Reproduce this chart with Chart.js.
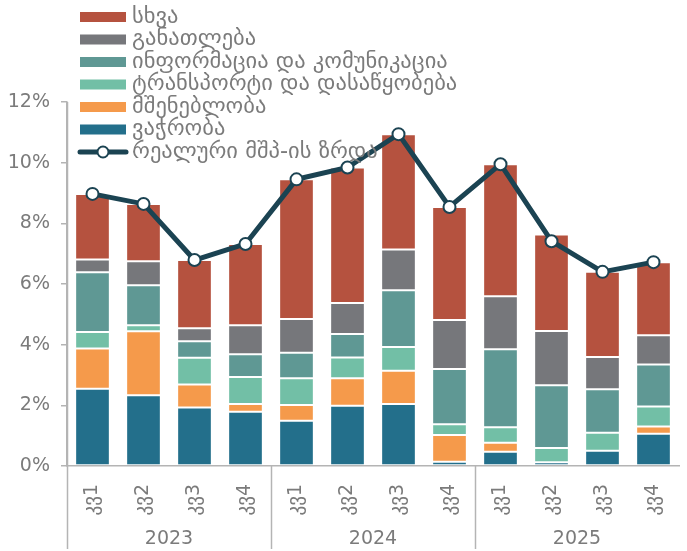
<!DOCTYPE html>
<html>
<head>
<meta charset="utf-8">
<script src="https://cdn.jsdelivr.net/npm/chart.js@4/dist/chart.umd.min.js"></script>
<style>
  html, body { margin: 0; padding: 0; background: #fff; }
  #wrap { width: 687px; height: 551px; }
</style>
</head>
<body>
<div id="wrap"><canvas id="chart" width="687" height="551"></canvas></div>
<script>
// quarters + years
const quarters = ['კვ1', 'კვ2', 'კვ3', 'კვ4', 'კვ1', 'კვ2', 'კვ3', 'კვ4', 'კვ1', 'კვ2', 'კვ3', 'კვ4'];
const years = ['2023', '2024', '2025'];

// contributions to growth, percentage points
const trade        = [2.55, 2.33, 1.93, 1.79, 1.49, 1.99, 2.04, 0.14, 0.47, 0.12, 0.50, 1.06];
const construction = [1.32, 2.11, 0.76, 0.25, 0.52, 0.90, 1.10, 0.88, 0.30, -0.07, 0.00, 0.24];
const transport    = [0.55, 0.20, 0.88, 0.89, 0.88, 0.69, 0.78, 0.36, 0.51, 0.47, 0.60, 0.66];
const ict          = [1.97, 1.32, 0.54, 0.75, 0.84, 0.77, 1.87, 1.82, 2.57, 2.07, 1.43, 1.39];
const education    = [0.42, 0.79, 0.43, 0.96, 1.12, 1.02, 1.35, 1.61, 1.75, 1.79, 1.06, 0.96];
const other        = [2.16, 1.89, 2.25, 2.68, 4.60, 4.47, 3.80, 3.73, 4.35, 3.18, 2.81, 2.41];
const gdpGrowth    = [8.97, 8.64, 6.79, 7.32, 9.45, 9.84, 10.94, 8.54, 9.95, 7.41, 6.40, 6.72];

const yTicks = [0, 2, 4, 6, 8, 10, 12];

const GREY = '#7b7b7b';
const LINE = '#1b4352';
Chart.defaults.font.family = "'DejaVu Sans', sans-serif";
Chart.defaults.font.size = 19;
Chart.defaults.color = GREY;

const bar = (label, data, color) => ({
  type: 'bar', label, data, backgroundColor: color,
  borderColor: 'rgba(255,255,255,0.35)', borderWidth: 1, borderSkipped: false,
  stack: 's', order: 1, barPercentage: 0.68, categoryPercentage: 1,
});

const datasets = [
  bar('ვაჭრობა', trade, '#236f8b'),
  bar('მშენებლობა', construction, '#f59a4b'),
  bar('ტრანსპორტი და დასაწყობება', transport, '#72bfa6'),
  bar('ინფორმაცია და კომუნიკაცია', ict, '#5f9894'),
  bar('განათლება', education, '#76777b'),
  bar('სხვა', other, '#b5523f'),
  {
    type: 'line', label: 'რეალური მშპ-ის ზრდა', data: gdpGrowth, stack: 'gdp', order: 0,
    borderColor: LINE, borderWidth: 5, pointRadius: 6, pointBorderWidth: 2,
    pointBackgroundColor: '#fff', pointBorderColor: LINE, tension: 0,
  },
];

// legend drawn top-left, overlapping the plot
const legendPlugin = {
  id: 'topLegend',
  afterDatasetsDraw(chart) {
    const ctx = chart.ctx;
    const rows = [5, 4, 3, 2, 1, 0, 6];
    ctx.save();
    ctx.font = "22.5px 'DejaVu Sans'";
    ctx.textBaseline = 'middle';
    rows.forEach((di, i) => {
      const ds = chart.data.datasets[di];
      const y = 17 + i * 22.5;
      if (ds.type === 'line') {
        ctx.strokeStyle = LINE;
        ctx.lineWidth = 5;
        ctx.lineCap = 'round';
        ctx.beginPath(); ctx.moveTo(80, y); ctx.lineTo(126, y); ctx.stroke();
        ctx.beginPath(); ctx.arc(103, y, 5.5, 0, Math.PI * 2);
        ctx.fillStyle = '#fff'; ctx.fill();
        ctx.lineWidth = 2; ctx.stroke();
      } else {
        ctx.fillStyle = ds.backgroundColor;
        ctx.fillRect(80, y - 5, 46, 10);
      }
      ctx.fillStyle = GREY;
      ctx.fillText(ds.label, 132, y);
    });
    ctx.restore();
  },
};

// year groups under the quarter labels
const yearPlugin = {
  id: 'years',
  afterDraw(chart) {
    const ctx = chart.ctx;
    const x = chart.scales.x;
    const area = chart.chartArea;
    const step = x.getPixelForValue(1) - x.getPixelForValue(0);
    ctx.save();
    ctx.strokeStyle = '#b4b4b4';
    ctx.lineWidth = 1.5;
    years.forEach((yr, g) => {
      const left = x.getPixelForValue(g * 4) - step / 2;
      const right = x.getPixelForValue(g * 4 + 3) + step / 2;
      ctx.beginPath();
      ctx.moveTo(Math.round(left) + 0.5, g === 0 ? area.top : area.bottom);
      ctx.lineTo(Math.round(left) + 0.5, 549);
      ctx.stroke();
      ctx.fillStyle = GREY;
      ctx.font = "19px 'DejaVu Sans'";
      ctx.textAlign = 'center';
      ctx.textBaseline = 'middle';
      ctx.fillText(yr, (left + right) / 2, 539);
    });
    ctx.restore();
  },
};

new Chart(document.getElementById('chart'), {
  data: { labels: quarters, datasets },
  options: {
    responsive: false,
    animation: false,
    layout: { padding: { top: 102, right: 0, left: 0, bottom: 0 } },
    plugins: { legend: { display: false }, tooltip: { enabled: false } },
    scales: {
      x: {
        stacked: true,
        grid: { display: false },
        border: { color: '#b4b4b4', width: 1.5 },
        ticks: { minRotation: 90, maxRotation: 90, padding: 10, color: GREY },
        afterFit: s => { s.height = 85; },
      },
      y: {
        stacked: true,
        min: 0, max: 12,
        afterBuildTicks: s => { s.ticks = yTicks.map(v => ({ value: v })); },
        grid: { drawOnChartArea: false, tickLength: 6, color: '#b4b4b4', lineWidth: 1.5 },
        border: { color: '#b4b4b4', width: 1.5 },
        ticks: { padding: 11, color: GREY, callback: v => v + '%' },
        afterFit: s => { s.width = 67; },
      },
    },
  },
  plugins: [legendPlugin, yearPlugin],
});
</script>
</body>
</html>
